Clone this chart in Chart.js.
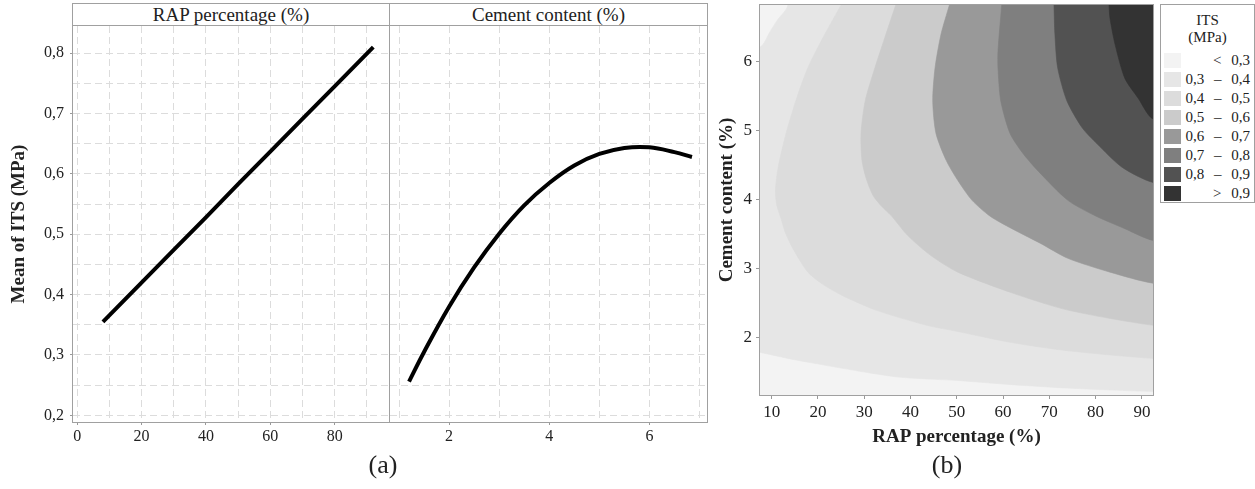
<!DOCTYPE html>
<html>
<head>
<meta charset="utf-8">
<script src="https://cdn.jsdelivr.net/npm/chart.js@4.4.1/dist/chart.umd.min.js"></script>
<style>
  body { margin: 0; background: #fff; font-family: 'Liberation Serif', 'Times New Roman', serif; color: #222; }
  #wrap { position: relative; width: 1255px; height: 489px; overflow: hidden; }
  .box { position: absolute; }
  .frame { position: absolute; box-sizing: border-box; border: 1px solid #a0a0a0; pointer-events: none; }
  .strip { position: absolute; box-sizing: border-box; border: 1px solid #a0a0a0; background: #fff;
           text-align: center; font-size: 19px; line-height: 21px; }
  .tag { position: absolute; width: 60px; text-align: center; font-size: 26px; }
  #legend { position: absolute; left: 1160px; top: 4px; width: 95px; height: 199px; box-sizing: border-box;
            border: 1px solid #a0a0a0; background: #fff; }
  #legend .ttl { text-align: center; font-size: 15px; line-height: 17px; padding-top: 7px; height: 37px; }
  #legend .row { position: relative; height: 19px; }
  #legend .sw { position: absolute; left: 3px; top: 4px; width: 17px; height: 15px; }
  #legend .lb { position: absolute; right: 4px; top: 2px; font-size: 15px; line-height: 19px; word-spacing: 6px; white-space: nowrap; }
</style>
</head>
<body>
<div id="wrap">
  <div class="box" style="left:0;top:0"><canvas id="rapChart" width="390" height="460"></canvas></div>
  <div class="box" style="left:390px;top:0"><canvas id="cementChart" width="317" height="460"></canvas></div>
  <div class="frame" style="left:72px;top:3px;width:318px;height:420px"></div>
  <div class="frame" style="left:389px;top:3px;width:319px;height:420px"></div>
  <div class="strip" style="left:72px;top:3px;width:318px;height:23px">RAP percentage (%)</div>
  <div class="strip" style="left:389px;top:3px;width:319px;height:23px">Cement content (%)</div>

  <div class="box" style="left:690px;top:0"><canvas id="contourChart" width="463" height="460"></canvas></div>
  <div class="frame" style="left:759px;top:4px;width:395px;height:392px"></div>
  <div id="legend">
    <div class="ttl">ITS<br>(MPa)</div>
    <div id="legendRows"></div>
  </div>

  <div class="tag" style="left:353px;top:450px">(a)</div>
  <div class="tag" style="left:917px;top:450px">(b)</div>
</div>

<script>
// (a) main effects of the two factors on mean ITS
const rapPct = [8, 20, 30, 40, 50, 60, 70, 80, 92];
const itsByRap = [0.355, 0.420, 0.474, 0.528, 0.583, 0.637, 0.691, 0.745, 0.810];
const cementPct = [1.2, 1.5, 2, 2.5, 3, 3.5, 4, 4.5, 5, 5.5, 6, 6.5, 6.85];
const itsByCement = [0.256, 0.305, 0.380, 0.445, 0.501, 0.548, 0.585, 0.614, 0.633, 0.643, 0.644, 0.636, 0.628];

const itsTicks = [0.2, 0.3, 0.4, 0.5, 0.6, 0.7, 0.8];
const rapTicksA = [0, 20, 40, 60, 80];
const cementTicksA = [2, 4, 6];

// (b) contour plot: ITS bands and their boundary lines (RAP %, cement %)
const bandLabels = ['< 0,3', '0,3 – 0,4', '0,4 – 0,5', '0,5 – 0,6', '0,6 – 0,7', '0,7 – 0,8', '0,8 – 0,9', '> 0,9'];
const bandColors = ['#f3f3f3', '#e6e6e6', '#dcdcdc', '#cbcbcb', '#999999', '#7f7f7f', '#525252', '#333333'];

const c03lowX = [7.47, 13.5, 18.3, 25.0, 31.2, 37.3, 44.2, 50.2, 61.9, 74.0, 92.4];
const c03lowY = [1.79, 1.70, 1.64, 1.56, 1.49, 1.43, 1.40, 1.38, 1.32, 1.27, 1.22];
const c03topX = [13.5, 11.1, 9.6, 7.47];
const c03topY = [6.82, 6.59, 6.43, 6.21];
const c04X = [25.0, 21.5, 17.8, 15.2, 13.1, 11.4, 10.8, 11.1, 12.0, 12.9, 14.2, 15.9, 17.8, 20.9, 25.0, 32.5, 43.5, 50.2, 61.8, 74.1, 92.4];
const c04Y = [6.82, 6.40, 5.91, 5.43, 4.96, 4.47, 4.13, 3.92, 3.73, 3.53, 3.34, 3.14, 2.95, 2.78, 2.62, 2.40, 2.18, 2.09, 1.93, 1.81, 1.70];
const c05X = [36.8, 34.7, 32.3, 30.2, 29.3, 29.5, 30.4, 31.9, 33.8, 35.8, 39.4, 44.4, 50.2, 61.9, 74.0, 92.4];
const c05Y = [6.82, 6.40, 5.91, 5.43, 4.96, 4.57, 4.31, 4.06, 3.90, 3.77, 3.48, 3.19, 2.95, 2.65, 2.40, 2.18];
const c06X = [48.4, 46.6, 45.3, 44.8, 45.5, 47.7, 50.2, 53.3, 57.2, 61.9, 68.0, 74.0, 83.1, 92.4];
const c06Y = [6.82, 6.40, 5.91, 5.43, 4.96, 4.57, 4.28, 3.99, 3.76, 3.58, 3.37, 3.15, 2.95, 2.79];
const c07X = [59.7, 58.9, 58.9, 59.5, 61.5, 64.3, 67.5, 74.0, 79.8, 86.3, 92.4];
const c07Y = [6.82, 6.15, 5.91, 5.43, 4.96, 4.67, 4.42, 3.99, 3.77, 3.58, 3.41];
const c08X = [71.0, 71.2, 71.8, 73.8, 77.1, 80.3, 85.7, 92.4];
const c08Y = [6.82, 6.40, 5.91, 5.43, 5.04, 4.81, 4.47, 4.25];
const c09X = [82.9, 83.1, 84.2, 86.3, 89.2, 92.4];
const c09Y = [6.82, 6.63, 6.25, 5.76, 5.47, 5.17];

const rapRangeB = [7.47, 92.4];
const cementRangeB = [1.17, 6.82];

Chart.defaults.font.family = "'Liberation Serif', 'Times New Roman', serif";
Chart.defaults.color = '#222';
Chart.defaults.animation = false;
Chart.defaults.plugins.legend.display = false;
Chart.defaults.plugins.tooltip.enabled = false;

const pts = (xs, ys) => xs.map((x, i) => ({x, y: ys[i]}));
const hasTick = (v, list) => list.some(t => Math.abs(t - v) < 1e-6);
const comma = v => v.toFixed(1).replace('.', ',');
const gridGrey = '#dcdcdc';

// keep the plot areas exactly where the frames are drawn
function noEdgePadding(s) {
  s.paddingTop = 0; s.paddingBottom = 0; s.paddingLeft = 0; s.paddingRight = 0;
}

function itsAxis(showLabels) {
  return {
    type: 'linear', min: 0.189, max: 0.845,
    ticks: {
      stepSize: 0.05, includeBounds: false, autoSkip: false, display: showLabels,
      padding: 6, font: {size: 16},
      callback: v => hasTick(v, itsTicks) ? comma(v) : ''
    },
    grid: {
      color: gridGrey, tickLength: showLabels ? 3 : 0, drawTicks: showLabels,
      tickColor: c => (c.tick && hasTick(c.tick.value, itsTicks)) ? '#999' : 'rgba(0,0,0,0)'
    },
    border: {display: false, dash: [7, 4]},
    title: {display: showLabels, text: 'Mean of ITS (MPa)', font: {size: 19, weight: 'bold'}, padding: {top: 7, bottom: 0}},
    afterFit: s => { s.width = showLabels ? 72 : 0; noEdgePadding(s); }
  };
}

function factorAxis(min, max, step, labels) {
  return {
    type: 'linear', min, max,
    ticks: {
      stepSize: step, includeBounds: false, autoSkip: false, maxRotation: 0,
      padding: 2, font: {size: 16},
      callback: v => hasTick(v, labels) ? String(v) : ''
    },
    grid: {
      color: gridGrey, tickLength: 3,
      tickColor: c => (c.tick && hasTick(c.tick.value, labels)) ? '#999' : 'rgba(0,0,0,0)'
    },
    border: {display: false, dash: [7, 4]},
    afterFit: s => { s.height = 38; noEdgePadding(s); }
  };
}

const effectLine = {showLine: true, borderColor: '#000', borderWidth: 4, pointRadius: 0, clip: 0};

new Chart(document.getElementById('rapChart'), {
  type: 'scatter',
  data: {datasets: [Object.assign({data: pts(rapPct, itsByRap), tension: 0}, effectLine)]},
  options: {
    responsive: false,
    layout: {padding: {top: 26, left: 1, right: 0, bottom: 0}},
    scales: {x: factorAxis(-1.3, 97.2, 10, rapTicksA), y: itsAxis(true)}
  }
});

new Chart(document.getElementById('cementChart'), {
  type: 'scatter',
  data: {datasets: [Object.assign({data: pts(cementPct, itsByCement), tension: 0.4}, effectLine)]},
  options: {
    responsive: false,
    layout: {padding: {top: 26, left: 0, right: 0, bottom: 0}},
    scales: {x: factorAxis(0.82, 7.15, 1, cementTicksA), y: itsAxis(false)}
  }
});

// region above each contour, closed outside the visible axis range
const OUT_X = 100, OUT_Y = 8;
function upperRegion(xs, ys) {
  return pts(xs, ys).concat([
    {x: OUT_X, y: ys[ys.length - 1]}, {x: OUT_X, y: OUT_Y}, {x: xs[0], y: OUT_Y}
  ]);
}
const region03 = pts(c03lowX, c03lowY).concat(
  [{x: OUT_X, y: c03lowY[c03lowY.length - 1]}, {x: OUT_X, y: OUT_Y}, {x: c03topX[0], y: OUT_Y}],
  pts(c03topX, c03topY),
  [{x: 0, y: c03topY[c03topY.length - 1]}, {x: 0, y: c03lowY[0]}]
);
const regions = [region03, upperRegion(c04X, c04Y), upperRegion(c05X, c05Y), upperRegion(c06X, c06Y),
                 upperRegion(c07X, c07Y), upperRegion(c08X, c08Y), upperRegion(c09X, c09Y)];

const bandSets = regions.map((r, i) => ({
  data: r, showLine: true, fill: 'shape', clip: 0,
  backgroundColor: bandColors[i + 1], borderColor: bandColors[i + 1], borderWidth: 0.6,
  pointRadius: 0, tension: 0.25, capBezierPoints: false,
  order: regions.length - i
}));

const areaBackground = {
  id: 'areaBackground',
  beforeDatasetsDraw(chart) {
    const a = chart.chartArea, ctx = chart.ctx;
    ctx.save();
    ctx.fillStyle = bandColors[0];
    ctx.fillRect(a.left, a.top, a.right - a.left, a.bottom - a.top);
    ctx.restore();
  }
};

new Chart(document.getElementById('contourChart'), {
  type: 'scatter',
  data: {datasets: bandSets},
  options: {
    responsive: false,
    layout: {padding: {top: 5, left: 22, right: 0, bottom: 0}},
    scales: {
      x: {
        type: 'linear', min: rapRangeB[0], max: rapRangeB[1],
        ticks: {stepSize: 10, includeBounds: false, autoSkip: false, maxRotation: 0, padding: 3, font: {size: 17}},
        grid: {drawOnChartArea: false, tickLength: 4, color: '#999'},
        border: {display: false},
        title: {display: true, text: 'RAP percentage (%)', font: {size: 19, weight: 'bold'}, padding: {top: 0, bottom: 12}},
        afterFit: s => { s.height = 65; noEdgePadding(s); }
      },
      y: {
        type: 'linear', min: cementRangeB[0], max: cementRangeB[1],
        ticks: {stepSize: 1, includeBounds: false, autoSkip: false, padding: 4, font: {size: 17}},
        grid: {drawOnChartArea: false, tickLength: 4, color: '#999'},
        border: {display: false},
        title: {display: true, text: 'Cement content (%)', font: {size: 19, weight: 'bold'}, padding: {top: 4, bottom: 0}},
        afterFit: s => { s.width = 48; noEdgePadding(s); }
      }
    }
  },
  plugins: [areaBackground]
});

// legend of the contour bands
const rows = document.getElementById('legendRows');
bandLabels.forEach((lab, i) => {
  const row = document.createElement('div');
  row.className = 'row';
  row.innerHTML = '<div class="sw" style="background:' + bandColors[i] + '"></div><div class="lb"></div>';
  row.querySelector('.lb').textContent = lab;
  rows.appendChild(row);
});
</script>
</body>
</html>
